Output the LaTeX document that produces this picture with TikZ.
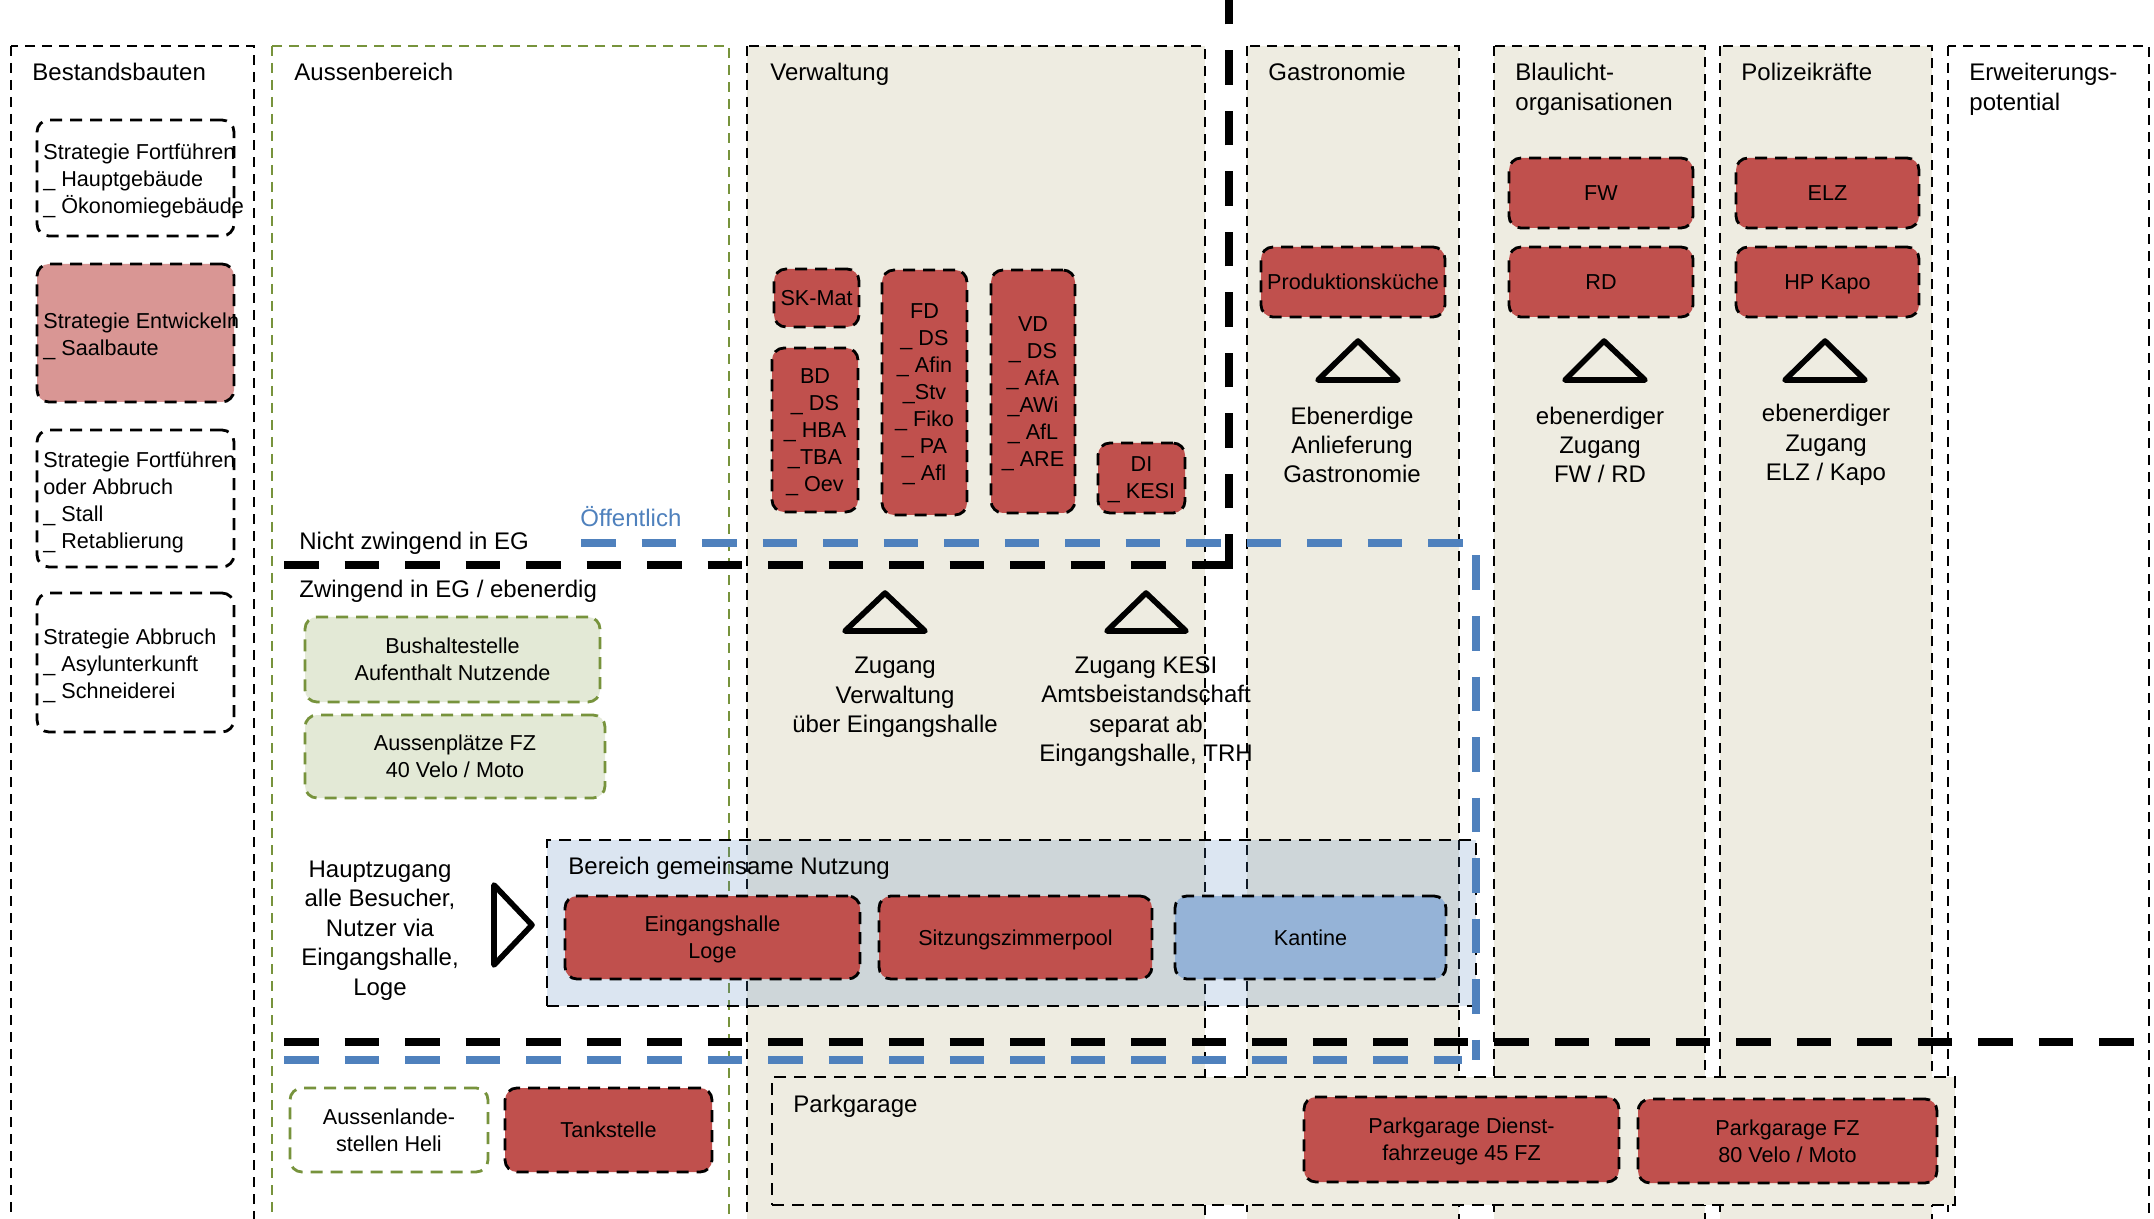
\documentclass[tikz,border=0pt]{standalone}
\usepackage{fontspec}
\setmainfont{Liberation Sans}
\definecolor{cbeige}{HTML}{EEECE1}
\definecolor{cred}{HTML}{C0504D}
\definecolor{cpink}{HTML}{D99694}
\definecolor{cgreen}{HTML}{77933C}
\definecolor{lgreen}{HTML}{E3E9D6}
\definecolor{cblue}{HTML}{4F81BD}
\definecolor{kblue}{HTML}{95B3D7}
\newcommand{\boxfont}{\fontsize{10.8}{13.5}\selectfont}
\newcommand{\labfont}{\fontsize{12}{14.7}\selectfont}
\newcommand{\titfont}{\fontsize{12}{15}\selectfont}
\begin{document}
\begin{tikzpicture}[x=0.5pt,y=-0.5pt,
  col/.style={line width=1pt, dash pattern=on 5pt off 3.5pt},
  bb/.style={draw=black, line width=1.4pt, dash pattern=on 6pt off 4pt, rounded corners=6pt, inner sep=0pt, align=center, font=\boxfont, text depth=0pt},
  sq/.style={draw=black, line width=1.4pt, dash pattern=on 6pt off 4pt, inner sep=0pt},
  redbox/.style={bb, fill=cred},
  greenbox/.style={bb, draw=cgreen, fill=lgreen},
  txt/.style={inner sep=0pt, font=\boxfont, align=left, anchor=west},
  tit/.style={inner sep=0pt, font=\titfont, align=left, anchor=base west},
  tit2/.style={inner sep=0pt, font=\titfont, align=left, anchor=west},
  lab/.style={inner sep=0pt, font=\labfont, align=center},
  tri/.style={draw=black, line width=2.8pt, line join=round},
  bigdash/.style={line width=4pt, dash pattern=on 17.25pt off 13pt}
]
\useasboundingbox (0,0) rectangle (2154,1219);
\clip (0,0) rectangle (2154,1219);

% columns
\draw[col, fill=white] (11,46) rectangle (254,1260);
\draw[col, draw=cgreen, fill=white] (272,46) rectangle (729,1260);
\draw[col, fill=cbeige] (747,46) rectangle (1205,1260);
\draw[col, fill=cbeige] (1247,46) rectangle (1459,1260);
\draw[col, fill=cbeige] (1494,46) rectangle (1705,1260);
\draw[col, fill=cbeige] (1720,46) rectangle (1932,1260);
\draw[col, fill=white] (1948,46) rectangle (2149,1260);

% shared area and parking frame
\node[sq, fill=cblue, fill opacity=0.2, minimum width=464.5pt, minimum height=83pt] (bereich) at (1011.5,923) {};
\node[sq, fill=cbeige, minimum width=591.5pt, minimum height=64pt] (parkg) at (1363.5,1141) {};

% boundary lines
\draw[bigdash, cblue] (581,543) -- (1476,543) -- (1476,1060);
\draw[bigdash, cblue] (284,1060) -- (1462,1060);
\draw[bigdash] (284,565) -- (1233,565);
\draw[bigdash] (1229,569) -- (1229,0);
\draw[bigdash] (284,1042) -- (2140,1042);

% column titles
\node[tit] (tbest) at (32,81) {Bestandsbauten};
\node[tit] (taus) at (294,81) {Aussenbereich};
\node[tit] (tverw) at (770,81) {Verwaltung};
\node[tit] (tgast) at (1268,81) {Gastronomie};
\node[tit2] (tblau) at (1515,89.5) {Blaulicht-\\organisationen};
\node[tit] (tpol) at (1741,81) {Polizeikräfte};
\node[tit2] (terw) at (1969,89.5) {Erweiterungs-\\potential};

% Bestandsbauten
\node[bb, fill=white, minimum width=98.5pt, minimum height=58pt] (sfort) at (135.5,178) {};
\node[txt] (tsfort) at (43,181) {Strategie Fortführen\\\_ Hauptgebäude\\\_ Ökonomiegebäude};
\node[bb, fill=cpink, minimum width=98.5pt, minimum height=69pt] (sentw) at (135.5,333) {};
\node[txt] (tsentw) at (43,336.5) {Strategie Entwickeln\\\_ Saalbaute};
\node[bb, fill=white, minimum width=98.5pt, minimum height=68.5pt] (sfab) at (135.5,498.5) {};
\node[txt] (tsfab) at (43,502) {Strategie Fortführen\\oder Abbruch\\\_ Stall\\\_ Retablierung};
\node[bb, fill=white, minimum width=98.5pt, minimum height=69.5pt] (sabb) at (135.5,662.5) {};
\node[txt] (tsabb) at (43,665.5) {Strategie Abbruch\\\_ Asylunterkunft\\\_ Schneiderei};

% Aussenbereich
\node[tit] (nicht) at (299,550) {Nicht zwingend in EG};
\node[tit, text=cblue] (oeff) at (580,527) {Öffentlich};
\node[tit] (zwing) at (299,597.5) {Zwingend in EG / ebenerdig};
\node[greenbox, minimum width=147.5pt, minimum height=42.5pt] (bus) at (452.5,659.5) {Bushaltestelle\\Aufenthalt Nutzende};
\node[greenbox, minimum width=150pt, minimum height=41.5pt] (apl) at (455,756.5) {Aussenplätze FZ\\40 Velo / Moto};
\node[lab] (haupt) at (380,930.5) {Hauptzugang\\alle Besucher,\\Nutzer via\\Eingangshalle,\\Loge};
\draw[tri] (494,885) -- (494,965) -- (532,925) -- cycle;
\node[bb, draw=cgreen, fill=white, minimum width=99pt, minimum height=42pt] (heli) at (389,1130) {Aussenlande-\\stellen Heli};
\node[redbox, minimum width=103.5pt, minimum height=42pt] (tank) at (608.5,1130) {Tankstelle};

% Verwaltung
\node[redbox, minimum width=42.5pt, minimum height=29pt] (skmat) at (816.5,298) {SK-Mat};
\node[redbox, minimum width=43pt, minimum height=82pt] (bd) at (815,430) {BD\\\_ DS\\\_ HBA\\\_TBA\\\_ Oev};
\node[redbox, minimum width=42.5pt, minimum height=122.5pt] (fd) at (924.5,392.5) {FD\\\_ DS\\\_ Afin\\\_Stv\\\_ Fiko\\\_ PA\\\_ Afl};
\node[redbox, minimum width=42pt, minimum height=121.5pt] (vd) at (1033,391.5) {VD\\\_ DS\\\_ AfA\\\_AWi\\\_ AfL\\\_ ARE};
\node[redbox, minimum width=43.5pt, minimum height=35pt] (di) at (1141.5,478) {DI\\\_ KESI};
\draw[tri] (885,593) -- (925,631) -- (845,631) -- cycle;
\draw[tri] (1146,593) -- (1186,631) -- (1107,631) -- cycle;
\node[lab] (zugv) at (895,697.5) {Zugang\\Verwaltung\\über Eingangshalle};
\node[lab] (zugk) at (1146,711.5) {Zugang KESI\\Amtsbeistandschaft\\separat ab\\Eingangshalle, TRH};

% Gastronomie
\node[redbox, minimum width=92pt, minimum height=35pt] (prod) at (1353,282) {Produktionsküche};
\draw[tri] (1358,341) -- (1398,380) -- (1318,380) -- cycle;
\node[lab] (ebang) at (1352,445) {Ebenerdige\\Anlieferung\\Gastronomie};

% Blaulicht
\node[redbox, minimum width=92pt, minimum height=35pt] (fw) at (1601,193) {FW};
\node[redbox, minimum width=92pt, minimum height=35pt] (rd) at (1601,282) {RD};
\draw[tri] (1604,341) -- (1645,380) -- (1565,380) -- cycle;
\node[lab] (ebfw) at (1600,445) {ebenerdiger\\Zugang\\FW / RD};

% Polizei
\node[redbox, minimum width=91.5pt, minimum height=35pt] (elz) at (1827.5,193) {ELZ};
\node[redbox, minimum width=91.5pt, minimum height=35pt] (hpk) at (1827.5,282) {HP Kapo};
\draw[tri] (1825,341) -- (1865,380) -- (1785,380) -- cycle;
\node[lab] (ebelz) at (1826,445) {ebenerdiger\\Zugang\\ELZ / Kapo};

% Bereich gemeinsame Nutzung
\node[tit] (tber) at (568,874.5) {Bereich gemeinsame Nutzung};
\node[redbox, minimum width=147.5pt, minimum height=41.5pt] (eing) at (712.5,937.5) {Eingangshalle\\Loge};
\node[redbox, minimum width=136.5pt, minimum height=41.5pt] (sitz) at (1015.5,937.5) {Sitzungszimmerpool};
\node[bb, fill=kblue, minimum width=135.5pt, minimum height=41.5pt] (kant) at (1310.5,937.5) {Kantine};

% Parkgarage
\node[tit] (tpark) at (793,1112.5) {Parkgarage};
\node[redbox, minimum width=157.5pt, minimum height=42.5pt] (pgd) at (1461.5,1139.5) {Parkgarage Dienst-\\fahrzeuge 45 FZ};
\node[redbox, minimum width=149.5pt, minimum height=42pt] (pgfz) at (1787.5,1141) {Parkgarage FZ\\80 Velo / Moto};
\end{tikzpicture}
\end{document}
